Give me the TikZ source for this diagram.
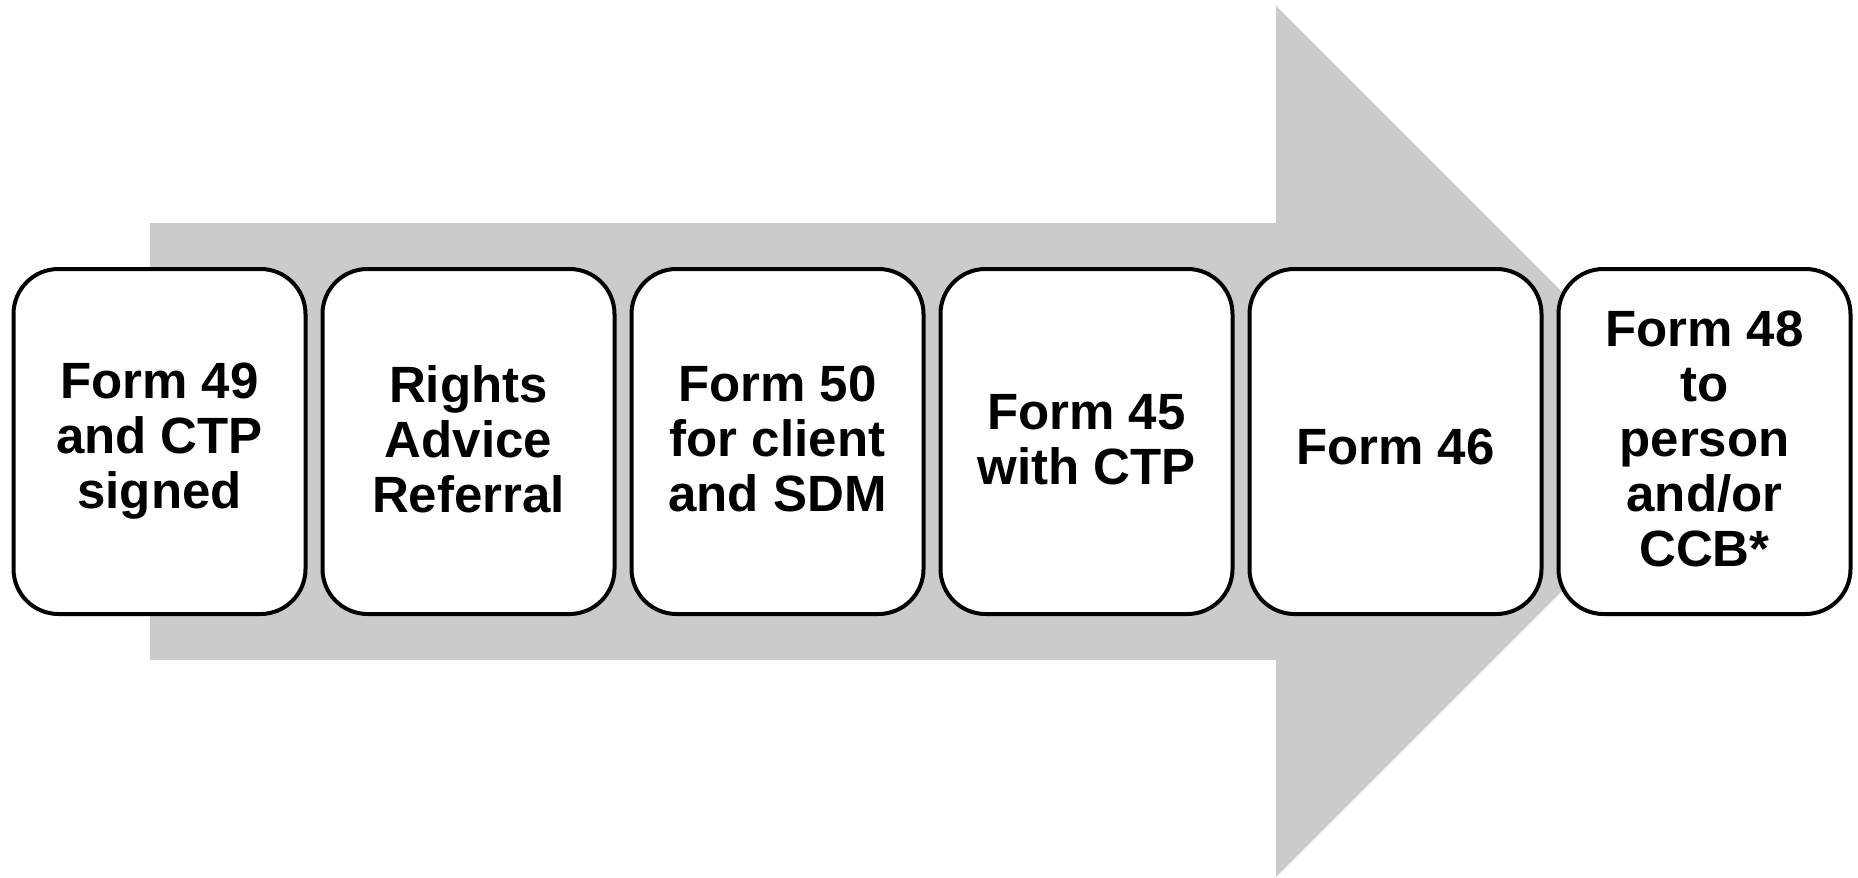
\documentclass[tikz,border=0pt]{standalone}
\usepackage{fontspec}
\newfontfamily\boxfont{Liberation Sans}
\definecolor{arrowgray}{RGB}{203,203,203}
\begin{document}
\begin{tikzpicture}[x=1pt,y=-1pt,
  stepbox/.style={draw=black, fill=white, line width=4pt, rounded corners=45pt,
    minimum width=292pt, minimum height=345pt, inner sep=0pt, align=center,
    font=\boxfont\bfseries\fontsize{51}{55}\selectfont,
    execute at begin node=\rule{0pt}{50pt},
    execute at end node=\rule[-5pt]{0pt}{5pt}}]
\useasboundingbox (0,0) rectangle (1858,878);
\fill[arrowgray] (150,223) -- (1276,223) -- (1276,6) -- (1711.5,441.5) -- (1276,877) -- (1276,660) -- (150,660) -- cycle;
\node[stepbox] (b1) at (159.5,441.5) {Form 49\\and CTP\\signed};
\node[stepbox] (b2) at (468.5,441.5) {Rights\\Advice\\Referral};
\node[stepbox] (b3) at (777.5,441.5) {Form 50\\for client\\and SDM};
\node[stepbox] (b4) at (1086.5,441.5) {Form 45\\with CTP};
\node[stepbox] (b5) at (1395.5,441.5) {Form 46};
\node[stepbox] (b6) at (1704.5,441.5) {Form 48\\to\\person\\and/or\\CCB*};
\end{tikzpicture}
\end{document}
